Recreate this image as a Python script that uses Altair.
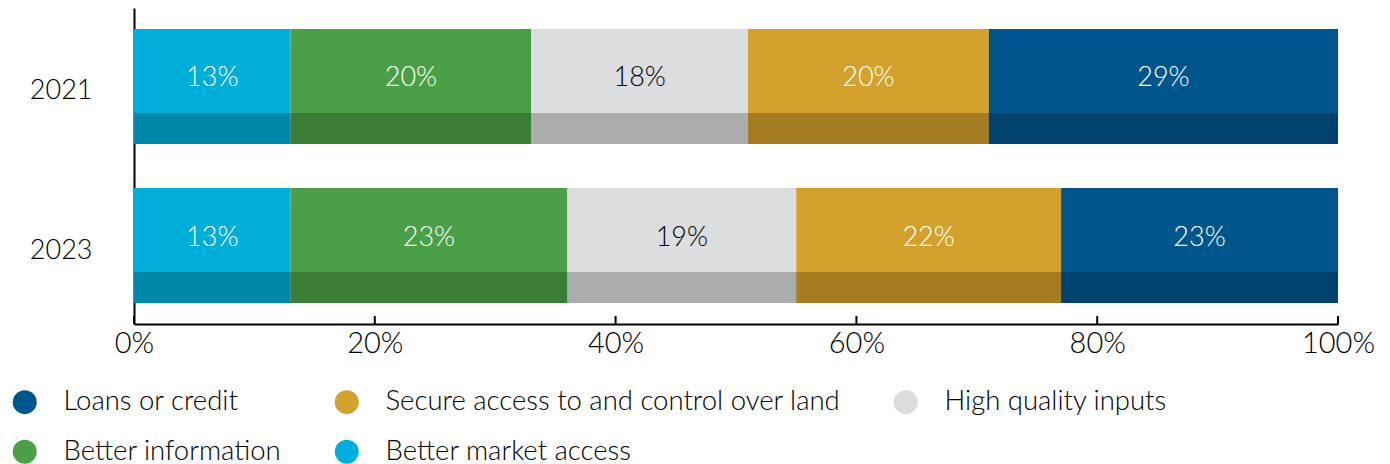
import altair as alt
import pandas as pd

years = ["2021", "2023"]
categories = ["Better market access", "Better information", "High quality inputs",
              "Secure access to and control over land", "Loans or credit"]
values_2021 = [13, 20, 18, 20, 29]
values_2023 = [13, 23, 19, 22, 23]
cat_colors = ["#00AEDA", "#4BA047", "#DCDDDF", "#D3A12C", "#00558C"]
legend_order = ["Loans or credit", "Secure access to and control over land",
                "High quality inputs", "Better information", "Better market access"]
x_ticks = [0, 20, 40, 60, 80, 100]

rows = []
for year, vals in zip(years, [values_2021, values_2023]):
    start = 0
    for cat, v in zip(categories, vals):
        rows.append(dict(year=year, category=cat, value=v, start=start, end=start + v,
                         mid=start + v / 2, label=f"{v}%",
                         txtcol="black" if cat == "High quality inputs" else "white"))
        start += v
df = pd.DataFrame(rows)
tick_df = pd.DataFrame({"t": x_ticks})

color_map = dict(zip(categories, cat_colors))
FONT = "Lato"
W = 300

yscale = alt.Scale(paddingInner=0.2767, paddingOuter=0.132)
xscale = alt.Scale(domain=[0, 100], nice=False)

base = alt.Chart(df)

bars = base.mark_bar().encode(
    x=alt.X("start:Q", scale=xscale,
            axis=alt.Axis(values=x_ticks, labelExpr="datum.value + '%'", ticks=False,
                          domainColor="black", domainWidth=2, labelPadding=5,
                          labelFontSize=29, labelFont=FONT, labelFontWeight=W,
                          labelColor="black", title=None, grid=False, labelFlush=False)),
    x2="end:Q",
    y=alt.Y("year:N", scale=yscale,
            axis=alt.Axis(title=None, ticks=False, labelPadding=42, labelFontSize=27,
                          labelFont=FONT, labelFontWeight=W, labelColor="black",
                          labelOffset=5,
                          domainColor="black", domainWidth=2,
                          minExtent=126, maxExtent=126)),
    color=alt.Color("category:N",
                    scale=alt.Scale(domain=legend_order,
                                    range=[color_map[c] for c in legend_order]),
                    legend=alt.Legend(orient="none", legendX=-123, legendY=380,
                                      direction="horizontal", columns=3,
                                      symbolType="circle", symbolSize=576,
                                      symbolStrokeWidth=0,
                                      labelFontSize=27.5, labelFont=FONT,
                                      labelFontWeight=W, labelColor="black",
                                      labelOffset=25, columnPadding=51, rowPadding=21,
                                      title=None, labelLimit=0)),
)

shade = base.mark_bar(height=31, yOffset=42, color="black", opacity=0.22).encode(
    x="start:Q", x2="end:Q", y="year:N"
)

labels = base.mark_text(fontSize=27, font=FONT, fontWeight=W, dy=-8).encode(
    x="mid:Q", y="year:N", text="label:N",
    color=alt.Color("txtcol:N", scale=None),
)

ticks = alt.Chart(tick_df).mark_rule(color="black", strokeWidth=2).encode(
    x="t:Q", y=alt.value(308), y2=alt.value(316)
)

chart = alt.layer(bars, shade, labels, ticks).properties(
    width=1204, height=316,
    padding={"left": 0, "top": 0, "right": 0, "bottom": 0},
).configure_view(stroke=None)

chart.save("out.html", embed_options={"renderer": "svg", "actions": False})
